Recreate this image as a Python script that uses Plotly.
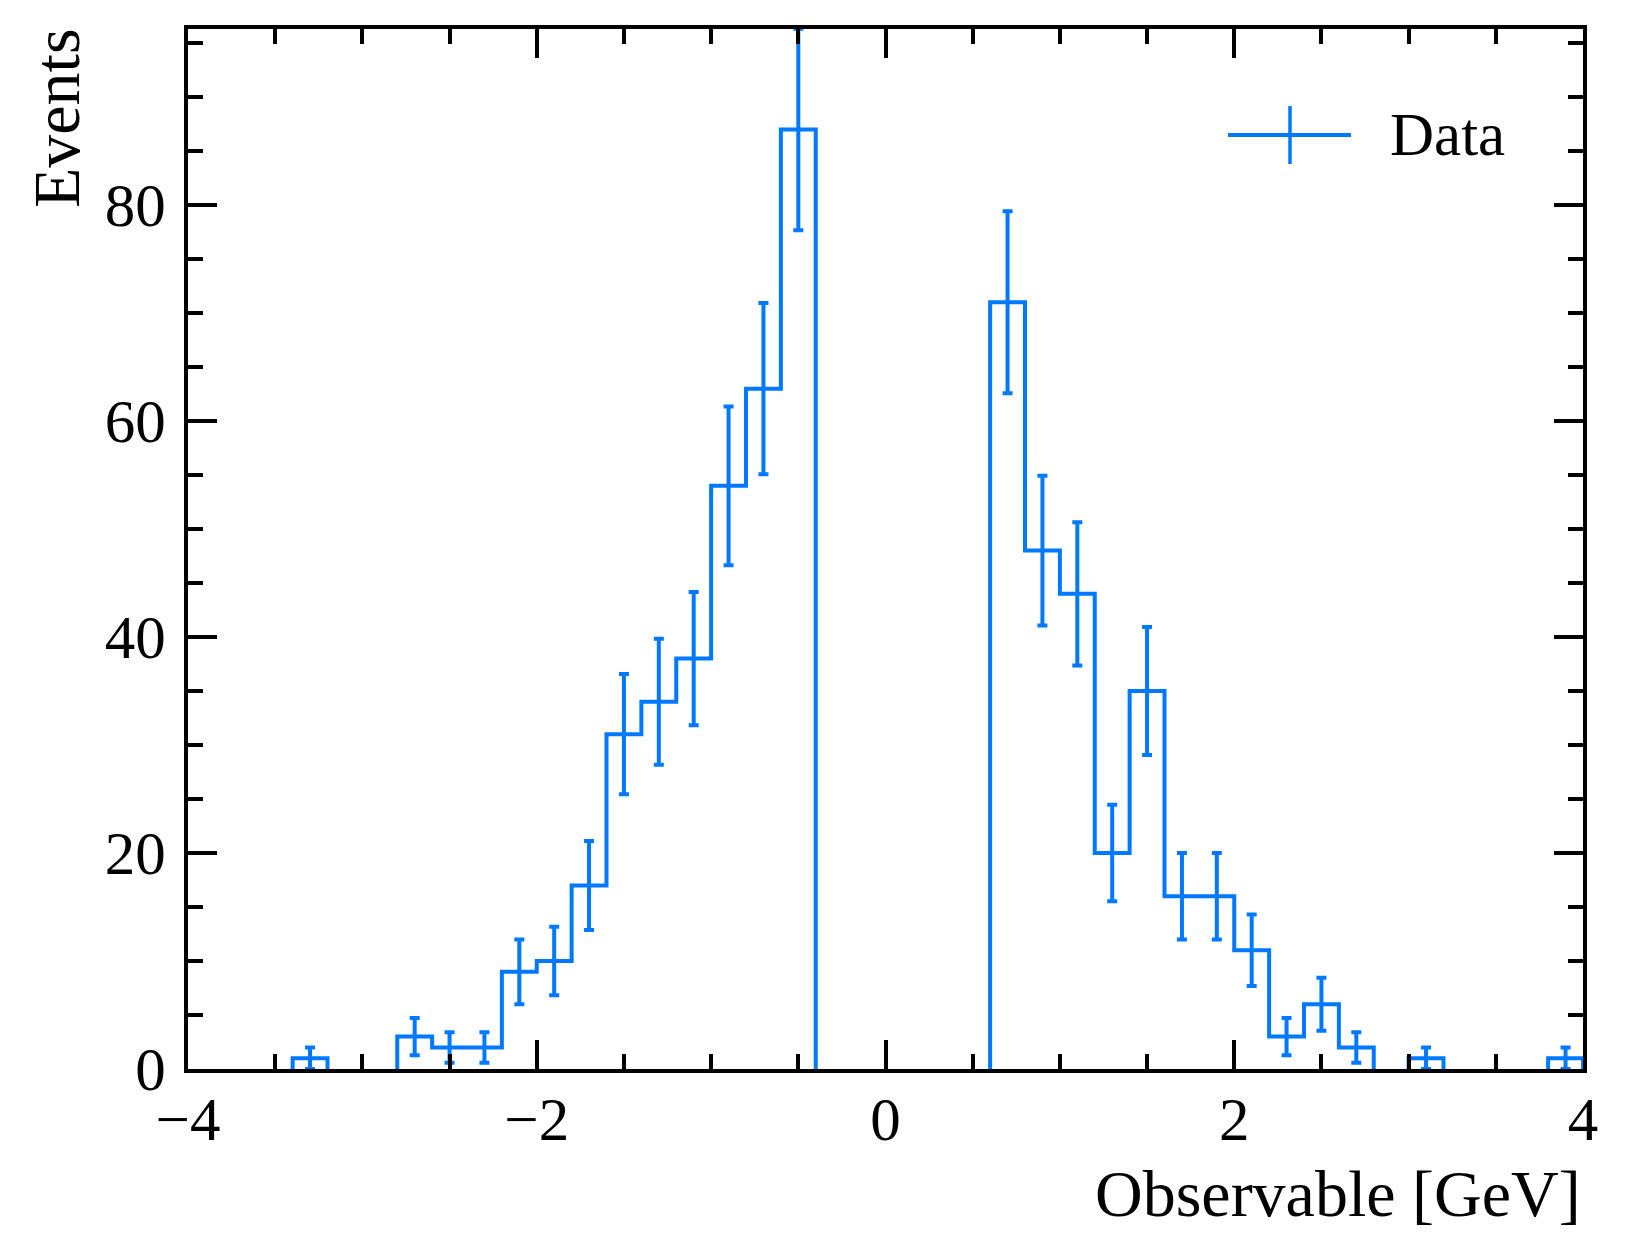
import numpy as np
import plotly.graph_objects as go

# histogram: 40 bins of width 0.2 from -4 to 4
bin_edges = np.round(np.arange(-4.0, 4.0001, 0.2), 2)
counts = [0, 0, 0, 1, 0, 0, 3, 2, 2, 9,
          10, 17, 31, 34, 38, 54, 63, 87, 0, 0,
          0, 0, 0, 71, 48, 44, 20, 35, 16, 16,
          11, 3, 6, 2, 0, 1, 0, 0, 0, 1]
x_ticks = [-4, -2, 0, 2, 4]
y_ticks = [0, 20, 40, 60, 80]

blue = "#0079ff"
font = "Liberation Serif"

counts = np.array(counts, dtype=float)
centers = (bin_edges[:-1] + bin_edges[1:]) / 2
errs = np.sqrt(counts)  # poisson errors
nz = counts > 0

# step outline, leaving out the flat pieces at zero (they sit under the spine)
sx, sy = [], []
prev = 0.0
for i, v in enumerate(counts):
    left, right = bin_edges[i], bin_edges[i + 1]
    if v > 0:
        sx += [left, left, right]
        sy += [prev, v, v]
    elif prev > 0:
        sx += [left, left, None]
        sy += [prev, 0, None]
    prev = v
if prev > 0:
    sx += [bin_edges[-1]]
    sy += [0]

fig = go.Figure()
fig.add_trace(go.Scatter(x=sx, y=sy, mode="lines", connectgaps=False,
                         line=dict(color=blue, width=4), showlegend=False))
fig.add_trace(go.Scatter(x=centers[nz], y=counts[nz], mode="markers",
                         marker=dict(size=0.1, color=blue),
                         error_y=dict(type="data", array=errs[nz], color=blue,
                                      thickness=4, width=5),
                         showlegend=False))

axis_common = dict(showline=True, linecolor="black", linewidth=4, mirror="ticks",
                   ticks="inside", ticklen=29, tickwidth=3.5, tickcolor="black",
                   showgrid=False, zeroline=False,
                   tickfont=dict(family=font, size=61, color="black"))

fig.update_xaxes(range=[-4, 4], tickvals=x_ticks, ticklabelstandoff=-6,
                 minor=dict(ticks="inside", dtick=0.5, ticklen=15, tickwidth=3.5,
                            tickcolor="black", showgrid=False),
                 **axis_common)
fig.update_yaxes(range=[0, 96.3], tickvals=y_ticks, ticklabelstandoff=6,
                 minor=dict(ticks="inside", dtick=5, ticklen=15, tickwidth=3.5,
                            tickcolor="black", showgrid=False),
                 **axis_common)

# legend drawn by hand so the icon shows the error-bar cross
W, H, L, B = 1395, 1040, 188, 1069
px = lambda v: (v - L) / W
py = lambda v: (B - v) / H
fig.add_shape(type="line", xref="paper", yref="paper", x0=px(1228), x1=px(1351),
              y0=py(135), y1=py(135), line=dict(color=blue, width=4))
fig.add_shape(type="line", xref="paper", yref="paper", x0=px(1290), x1=px(1290),
              y0=py(106), y1=py(164), line=dict(color=blue, width=3.5))
fig.add_annotation(text="Data", xref="paper", yref="paper", x=px(1388), y=py(135),
                   xanchor="left", yanchor="middle", showarrow=False,
                   font=dict(family=font, size=61, color="black"))

fig.add_annotation(text="Observable [GeV]", xref="paper", yref="paper", x=1, y=py(1155),
                   xanchor="right", yanchor="top", showarrow=False,
                   font=dict(family=font, size=66, color="black"))
fig.add_annotation(text="Events", xref="paper", yref="paper", x=px(56), y=1, yshift=3,
                   xanchor="center", yanchor="top", textangle=-90, showarrow=False,
                   font=dict(family=font, size=66, color="black"))

# page body has an 8px margin, so the figure is a bit smaller than the window
fig.update_layout(width=1620, height=1241, plot_bgcolor="white", paper_bgcolor="white",
                  margin=dict(l=180, r=45, t=21, b=180))
fig.write_html("out.html")
